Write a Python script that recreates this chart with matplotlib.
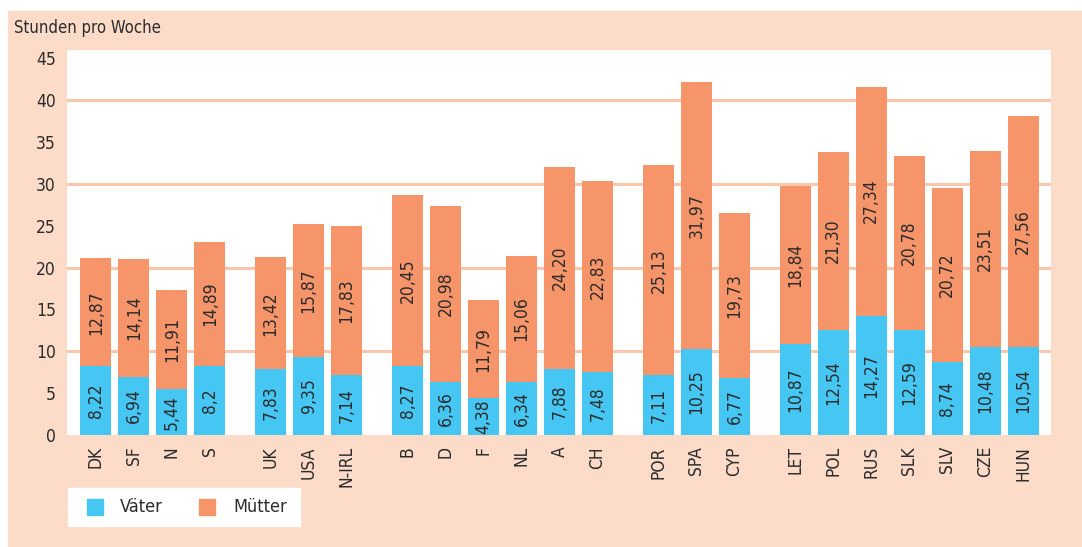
import numpy as np
import matplotlib
matplotlib.use("Agg")
import matplotlib.pyplot as plt
from matplotlib.patches import Rectangle

plt.rcParams['font.family'] = ['Liberation Sans Narrow', 'DejaVu Sans']
plt.rcParams['font.stretch'] = 'condensed'

# Country groups and weekly hours
groups = [
    ["DK", "SF", "N", "S"],
    ["UK", "USA", "N-IRL"],
    ["B", "D", "F", "NL", "A", "CH"],
    ["POR", "SPA", "CYP"],
    ["LET", "POL", "RUS", "SLK", "SLV", "CZE", "HUN"],
]
vaeter = [8.22, 6.94, 5.44, 8.2,
          7.83, 9.35, 7.14,
          8.27, 6.36, 4.38, 6.34, 7.88, 7.48,
          7.11, 10.25, 6.77,
          10.87, 12.54, 14.27, 12.59, 8.74, 10.48, 10.54]
muetter = [12.87, 14.14, 11.91, 14.89,
           13.42, 15.87, 17.83,
           20.45, 20.98, 11.79, 15.06, 24.20, 22.83,
           25.13, 31.97, 19.73,
           18.84, 21.30, 27.34, 20.78, 20.72, 23.51, 27.56]
vaeter_labels = ["8,22", "6,94", "5,44", "8,2",
                 "7,83", "9,35", "7,14",
                 "8,27", "6,36", "4,38", "6,34", "7,88", "7,48",
                 "7,11", "10,25", "6,77",
                 "10,87", "12,54", "14,27", "12,59", "8,74", "10,48", "10,54"]
muetter_labels = ["12,87", "14,14", "11,91", "14,89",
                  "13,42", "15,87", "17,83",
                  "20,45", "20,98", "11,79", "15,06", "24,20", "22,83",
                  "25,13", "31,97", "19,73",
                  "18,84", "21,30", "27,34", "20,78", "20,72", "23,51", "27,56"]

blue = "#45C6F3"
orange = "#F7956A"
peach = "#FCDCC8"
grid = "#FAC7AC"
txt = "#2b2b2b"

# x positions: one unit per bar, extra gap between groups
labels, xpos = [], []
pos = 0.0
for g in groups:
    for c in g:
        labels.append(c)
        xpos.append(pos)
        pos += 1
    pos += 0.6
xpos = np.array(xpos)
vaeter = np.array(vaeter)
muetter = np.array(muetter)

W, H = 1082, 547
fig = plt.figure(figsize=(W / 100, H / 100), dpi=100, facecolor="white")
fig.patches.append(Rectangle((8 / W, 0), 1 - 8 / W, 1 - 11 / H,
                             transform=fig.transFigure, color=peach, zorder=-10))

ax = fig.add_axes([67 / W, 1 - 435 / H, (1051 - 67) / W, (435 - 50) / H])
ax.set_zorder(1)
ax.set_facecolor("white")
for s in ax.spines.values():
    s.set_visible(False)

ax.bar(xpos, vaeter, width=0.82, color=blue, zorder=2)
ax.bar(xpos, muetter, width=0.82, bottom=vaeter, color=orange, zorder=2)

for yv in [10, 20, 30, 40]:
    ax.axhline(yv, color=grid, lw=2.2, zorder=1)

for x, v, m, vl, ml in zip(xpos, vaeter, muetter, vaeter_labels, muetter_labels):
    ax.text(x, v / 2, vl, rotation=90, ha="center", va="center",
            fontsize=12.5, color=txt, zorder=3)
    ax.text(x, v + m / 2, ml, rotation=90, ha="center", va="center",
            fontsize=12.5, color=txt, zorder=3)

ax.set_xlim(-0.76, 25.13)
ax.set_ylim(0, 46)
ax.set_yticks(range(0, 50, 5))
ax.set_xticks(xpos)
ax.set_xticklabels(labels, rotation=90, fontsize=12.5, color=txt)
ax.tick_params(axis="both", length=0, colors=txt)
ax.tick_params(axis="y", labelsize=12.5, pad=8)
ax.tick_params(axis="x", pad=8)

fig.text(14 / W, 1 - 28 / H, "Stunden pro Woche", fontsize=12,
         color=txt, va="center", ha="left")

# legend box
fig.patches.append(Rectangle((68 / W, 1 - 526 / H), 232 / W, 38 / H,
                             transform=fig.transFigure, color="white", zorder=1))
fig.patches.append(Rectangle((87 / W, 1 - 515 / H), 16 / W, 16 / H,
                             transform=fig.transFigure, color=blue, zorder=2))
fig.patches.append(Rectangle((199 / W, 1 - 515 / H), 16 / W, 16 / H,
                             transform=fig.transFigure, color=orange, zorder=2))
fig.text(120 / W, 1 - 507 / H, "Väter", fontsize=13, color=txt, va="center")
fig.text(233 / W, 1 - 507 / H, "Mütter", fontsize=13, color=txt, va="center")

fig.savefig("out.png", dpi=100, facecolor=fig.get_facecolor())
